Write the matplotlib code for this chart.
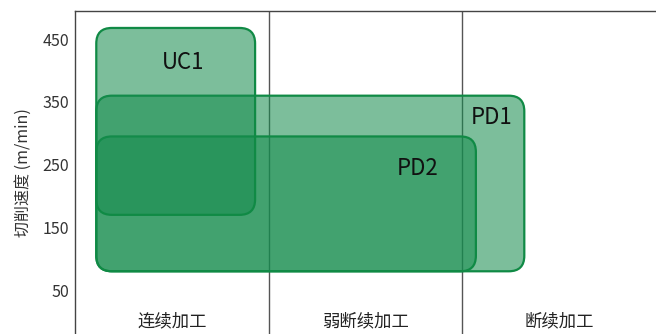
import matplotlib
matplotlib.use('Agg')
import matplotlib.pyplot as plt
from matplotlib.patches import FancyBboxPatch

plt.rcParams['font.family'] = ['Noto Sans CJK SC', 'DejaVu Sans']

# data
categories = ['连续加工', '弱断续加工', '断续加工']
grades = ['PD1', 'PD2', 'UC1']
x_start = [0.11, 0.11, 0.11]
x_end = [2.32, 2.07, 0.93]
v_low = [80, 80, 170]
v_high = [360, 295, 468]
label_x = [2.15, 1.77, 0.56]
label_y = [325, 244, 413]
yticks = [50, 150, 250, 350, 450]

fill = (0.086, 0.55, 0.305, 0.56)
edge = '#108a45'

fig = plt.figure(figsize=(6.56, 3.34), dpi=100)
ax = fig.add_axes([0.1143, 0.0, 0.8857, 0.967])
ax.set_xlim(0, 3)
ax.set_ylim(-20, 495)

# aspect factor so the rounded corners look circular on screen
bbox = ax.get_window_extent()
px_x = bbox.width / 3
px_y = bbox.height / 515
aspect = px_x / px_y

for i in range(1, len(categories)):
    ax.axvline(i, color='#555555', linewidth=1.0, zorder=1)

for x0, x1, y0, y1, name, tx, ty in zip(x_start, x_end, v_low, v_high, grades, label_x, label_y):
    box = FancyBboxPatch((x0, y0), x1 - x0, y1 - y0,
                         boxstyle='round,pad=0,rounding_size=0.08',
                         mutation_aspect=aspect,
                         facecolor=fill, edgecolor=edge, linewidth=1.6, zorder=2)
    ax.add_patch(box)
    ax.text(tx, ty, name, fontsize=16, ha='center', va='center', color='#111111', zorder=3)

for i, cat in enumerate(categories):
    ax.text(i + 0.5, 0, cat, fontsize=12.5, ha='center', va='center', color='#222222')

ax.set_yticks(yticks)
ax.set_xticks([])
ax.tick_params(axis='y', length=0, pad=4, labelsize=11.5, labelcolor='#333333')
ax.set_ylabel('切削速度 (m/min)', fontsize=11.5, color='#333333', labelpad=8)
for s in ['bottom', 'right']:
    ax.spines[s].set_visible(False)
for s in ['left', 'top']:
    ax.spines[s].set_color('#444444')
    ax.spines[s].set_linewidth(1.0)

fig.savefig('out.png', dpi=100, facecolor='white')
